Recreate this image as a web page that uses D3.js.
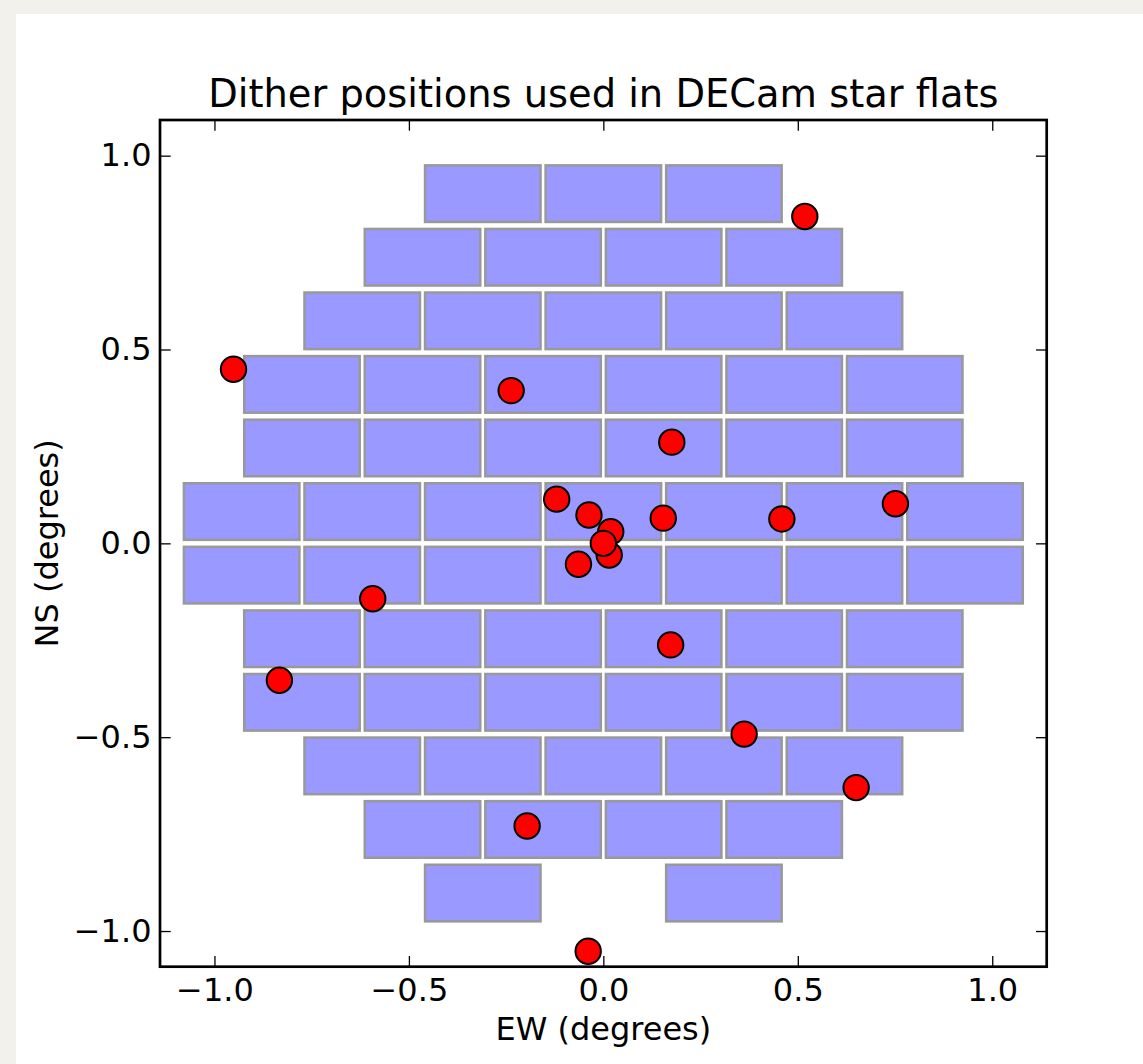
<!DOCTYPE html>
<html>
<head>
<meta charset="utf-8">
<script src="https://cdn.jsdelivr.net/npm/d3@7"></script>
<style>
  html, body { margin: 0; padding: 0; background: #f3f1ec; }
  svg { display: block; }
  text { font-family: "DejaVu Sans", sans-serif; fill: #000; }
</style>
</head>
<body>
<svg id="chart" width="1143" height="1064"></svg>
<script>
// DECam focal plane: CCD centre rows (NS, degrees) and CCD centres along each row (EW, degrees)
const ccdRowY = [0.902, 0.738, 0.574, 0.410, 0.246, 0.082, -0.082, -0.246, -0.410, -0.574, -0.738, -0.902];
const ccdRowX = [
  [-0.31, 0.0, 0.31],
  [-0.465, -0.155, 0.155, 0.465],
  [-0.62, -0.31, 0.0, 0.31, 0.62],
  [-0.775, -0.465, -0.155, 0.155, 0.465, 0.775],
  [-0.775, -0.465, -0.155, 0.155, 0.465, 0.775],
  [-0.93, -0.62, -0.31, 0.0, 0.31, 0.62, 0.93],
  [-0.93, -0.62, -0.31, 0.0, 0.31, 0.62, 0.93],
  [-0.775, -0.465, -0.155, 0.155, 0.465, 0.775],
  [-0.775, -0.465, -0.155, 0.155, 0.465, 0.775],
  [-0.62, -0.31, 0.0, 0.31, 0.62],
  [-0.465, -0.155, 0.155, 0.465],
  [-0.31, 0.31]
];
// CCD footprint on the sky (degrees)
const ccdWidth = 0.297;
const ccdHeight = 0.146;

// Dither offsets (degrees)
const ditherEW = [0.518, -0.951, -0.237, 0.176, -0.120, -0.037, 0.019, 0.154, 0.459, 0.751,
                  0.015, -0.064, -0.593, 0.173, -0.833, 0.362, 0.650, -0.196, -0.039, 0.0];
const ditherNS = [0.843, 0.449, 0.394, 0.261, 0.114, 0.073, 0.030, 0.065, 0.063, 0.102,
                  -0.030, -0.054, -0.143, -0.262, -0.353, -0.492, -0.630, -0.729, -1.052, 0.0];

const xTicks = [-1.0, -0.5, 0.0, 0.5, 1.0];
const yTicks = [-1.0, -0.5, 0.0, 0.5, 1.0];

const svg = d3.select("#chart");
const W = 1143, H = 1064;

// page panel
svg.append("rect").attr("x", 0).attr("y", 0).attr("width", W).attr("height", H).attr("fill", "#f3f1ec");
svg.append("rect").attr("x", 16).attr("y", 14).attr("width", W - 16).attr("height", H - 14).attr("fill", "#ffffff");

const plot = { left: 160, right: 1046.7, top: 120, bottom: 966.7 };
const x = d3.scaleLinear().domain([-1.14, 1.14]).range([plot.left, plot.right]);
const y = d3.scaleLinear().domain([-1.092, 1.092]).range([plot.bottom, plot.top]);

// CCD rectangles
const ccds = [];
ccdRowY.forEach((cy, i) => ccdRowX[i].forEach(cx => ccds.push({ cx, cy })));

svg.append("g").selectAll("rect").data(ccds).join("rect")
  .attr("x", d => x(d.cx - ccdWidth / 2))
  .attr("y", d => y(d.cy + ccdHeight / 2))
  .attr("width", d => x(d.cx + ccdWidth / 2) - x(d.cx - ccdWidth / 2))
  .attr("height", d => y(d.cy - ccdHeight / 2) - y(d.cy + ccdHeight / 2))
  .attr("fill", "#9999ff")
  .attr("stroke", "#999999")
  .attr("stroke-width", 2.5);

// Dither positions
const dithers = ditherEW.map((e, i) => ({ e, n: ditherNS[i] }));
svg.append("g").selectAll("circle").data(dithers).join("circle")
  .attr("cx", d => x(d.e))
  .attr("cy", d => y(d.n))
  .attr("r", 12.7)
  .attr("fill", "#ff0000")
  .attr("stroke", "#000")
  .attr("stroke-width", 2);

// Axes: ticks point inward on all four sides
const fmt = v => d3.format(".1f")(v).replace("-", "\u2212");
const tickLen = 10.7;

function styleAxis(g) {
  g.select(".domain").remove();
  g.selectAll(".tick line").attr("stroke", "#000").attr("stroke-width", 1.3);
  g.selectAll(".tick text").style("font-size", "32px").style("font-family", "DejaVu Sans, sans-serif");
}

svg.append("g").attr("transform", `translate(0,${plot.bottom})`)
  .call(d3.axisBottom(x).tickValues(xTicks).tickFormat(fmt).tickSizeInner(-tickLen).tickSizeOuter(0).tickPadding(11.5))
  .call(styleAxis);
svg.append("g").attr("transform", `translate(0,${plot.top})`)
  .call(d3.axisTop(x).tickValues(xTicks).tickFormat("").tickSizeInner(-tickLen).tickSizeOuter(0))
  .call(styleAxis);
svg.append("g").attr("transform", `translate(${plot.left},0)`)
  .call(d3.axisLeft(y).tickValues(yTicks).tickFormat(fmt).tickSizeInner(-tickLen).tickSizeOuter(0).tickPadding(8.5))
  .call(styleAxis);
svg.append("g").attr("transform", `translate(${plot.right},0)`)
  .call(d3.axisRight(y).tickValues(yTicks).tickFormat("").tickSizeInner(-tickLen).tickSizeOuter(0))
  .call(styleAxis);

// frame
svg.append("rect")
  .attr("x", plot.left).attr("y", plot.top)
  .attr("width", plot.right - plot.left).attr("height", plot.bottom - plot.top)
  .attr("fill", "none").attr("stroke", "#000").attr("stroke-width", 2.7);

// title and axis labels
const cx = (plot.left + plot.right) / 2;
svg.append("text").attr("x", cx).attr("y", 106.5).attr("text-anchor", "middle")
  .style("font-size", "38.4px").text("Dither positions used in DECam star flats");
svg.append("text").attr("x", cx).attr("y", 1040).attr("text-anchor", "middle")
  .style("font-size", "32px").text("EW (degrees)");
svg.append("text")
  .attr("transform", `translate(58,${(plot.top + plot.bottom) / 2}) rotate(-90)`)
  .attr("text-anchor", "middle")
  .style("font-size", "32px").text("NS (degrees)");
</script>
</body>
</html>
